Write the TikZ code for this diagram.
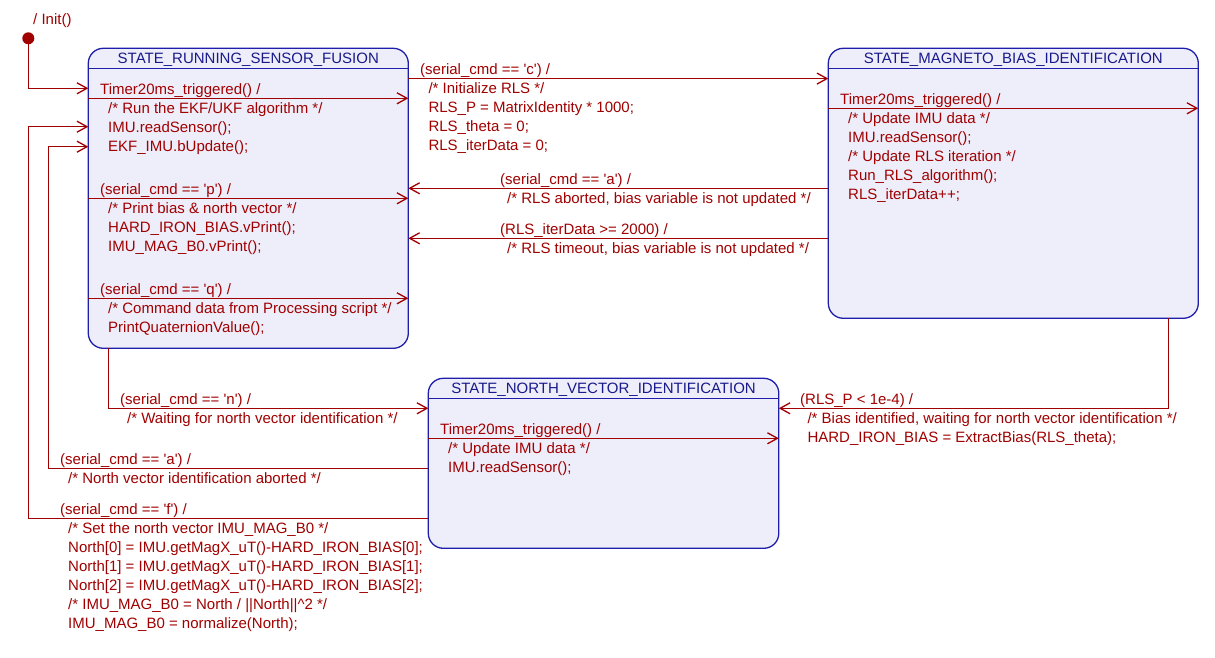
\documentclass[tikz,border=0pt]{standalone}
\usepackage{fontspec}
\setmainfont{Liberation Sans}
\usetikzlibrary{arrows.meta}
\definecolor{trred}{RGB}{160,0,0}
\definecolor{stblue}{RGB}{30,30,170}
\definecolor{sttitle}{RGB}{25,25,140}
\definecolor{stfill}{RGB}{238,238,250}
\newcommand\sqt{\textquotesingle}
% one text line per node, 19pt apart, first baseline at (#2,#3)
\newcommand\codeblock[4]{%
  \foreach \txtline [count=\k from 0] in {#4}
    {\node[codetxt] (#1-\k) at (#2, #3+19*\k) {\txtline};}}

\begin{document}
\begin{tikzpicture}[x=1pt,y=-1pt,
  font=\fontsize{15}{19}\selectfont,
  state/.style={draw=stblue, fill=stfill, line width=1.3pt, rounded corners=15pt,
    inner sep=0pt, outer sep=0pt, anchor=north west},
  sline/.style={draw=stblue, line width=1.3pt},
  tr/.style={draw=trred, line width=1.3pt, -{Straight Barb[length=10pt,width=11pt]}},
  codetxt/.style={text=trred, anchor=base west, inner sep=0pt},
  title/.style={text=sttitle, anchor=base, inner sep=0pt}]

\useasboundingbox (0,0) rectangle (1215,658);

% states
\node[state, minimum width=320pt, minimum height=300pt] (s1) at (88.3,48.3) {};
\node[state, minimum width=370pt, minimum height=270pt] (s2) at (828.3,48.3) {};
\node[state, minimum width=350.5pt, minimum height=170pt] (s3) at (428.3,378.3) {};

\node[title] (s1t) at (s1.north |- 0,63.3) {STATE\_RUNNING\_SENSOR\_FUSION};
\node[title] (s2t) at (s2.north |- 0,63.3) {STATE\_MAGNETO\_BIAS\_IDENTIFICATION};
\node[title] (s3t) at (s3.north |- 0,393.3) {STATE\_NORTH\_VECTOR\_IDENTIFICATION};
\draw[sline] (s1.west |- 0,68.3) -- (s1.east |- 0,68.3);
\draw[sline] (s2.west |- 0,68.3) -- (s2.east |- 0,68.3);
\draw[sline] (s3.west |- 0,398.3) -- (s3.east |- 0,398.3);

% initial pseudo-state
\node[circle, fill=trred, minimum size=12pt, inner sep=0pt] (init) at (28.3,38.3) {};
\node[codetxt] (initlbl) at (33,25) {/ Init()};
\draw[tr] (init) |- (s1.west |- 0,88.3);

% internal transitions of the sensor fusion state
\draw[tr] (s1.west |- 0,98.3) -- (s1.east |- 0,98.3);
\node[codetxt] (t1g) at (100,94.3) {Timer20ms\_triggered() /};
\codeblock{t1a}{108}{113.3}{/* Run the EKF/UKF algorithm */, IMU.readSensor();, EKF\_IMU.bUpdate();}

\draw[tr] (s1.west |- 0,198.3) -- (s1.east |- 0,198.3);
\node[codetxt] (pg) at (100,194.3) {(serial\_cmd == \sqt p\sqt) /};
\codeblock{pa}{108}{213.3}{/* Print bias \& north vector */, HARD\_IRON\_BIAS.vPrint();, IMU\_MAG\_B0.vPrint();}

\draw[tr] (s1.west |- 0,298.3) -- (s1.east |- 0,298.3);
\node[codetxt] (qg) at (100,294.3) {(serial\_cmd == \sqt q\sqt) /};
\codeblock{qa}{108}{313.3}{/* Command data from Processing script */, PrintQuaternionValue();}

% start RLS
\draw[tr] (s1.east |- 0,78.6) -- (s2.west |- 0,78.6);
\node[codetxt] (cg) at (420,74.6) {(serial\_cmd == \sqt c\sqt) /};
\codeblock{ca}{428.3}{93.6}{/* Initialize RLS */, RLS\_P = MatrixIdentity * 1000;, RLS\_theta = 0;, RLS\_iterData = 0;}

% back from bias identification
\draw[tr] (s2.west |- 0,188.3) -- (s1.east |- 0,188.3);
\node[codetxt] (ag) at (500,184.3) {(serial\_cmd == \sqt a\sqt) /};
\codeblock{aa}{507}{203.3}{{/* RLS aborted, bias variable is not updated */}}

\draw[tr] (s2.west |- 0,238.3) -- (s1.east |- 0,238.3);
\node[codetxt] (tog) at (500,234.3) {(RLS\_iterData >= 2000) /};
\codeblock{toa}{507}{253.3}{{/* RLS timeout, bias variable is not updated */}}

% internal transition of the bias identification state
\draw[tr] (s2.west |- 0,108.3) -- (s2.east |- 0,108.3);
\node[codetxt] (t2g) at (840,104.3) {Timer20ms\_triggered() /};
\codeblock{t2a}{848}{123.3}{/* Update IMU data */, IMU.readSensor();, /* Update RLS iteration */, Run\_RLS\_algorithm();, RLS\_iterData++;}

% bias found
\draw[tr] ([xshift=-29.8pt]s2.south east) |- (s3.east |- 0,408.3);
\node[codetxt] (bg) at (800,404.3) {(RLS\_P < 1e-4) /};
\codeblock{ba}{807.3}{423.3}{{/* Bias identified, waiting for north vector identification */}, HARD\_IRON\_BIAS = ExtractBias(RLS\_theta);}

% start north vector identification
\draw[tr] ([xshift=20pt]s1.south west) |- (s3.west |- 0,408.3);
\node[codetxt] (ng) at (120,404.3) {(serial\_cmd == \sqt n\sqt) /};
\codeblock{na}{127}{423.3}{/* Waiting for north vector identification */}

% internal transition of the north vector state
\draw[tr] (s3.west |- 0,438.3) -- (s3.east |- 0,438.3);
\node[codetxt] (t3g) at (440,434.3) {Timer20ms\_triggered() /};
\codeblock{t3a}{448}{453.3}{/* Update IMU data */, IMU.readSensor();}

% back from north vector identification
\coordinate (abend) at (48.3,146.7);
\draw[tr] (s3.west |- 0,468.3) -| (abend) -- (s1.west |- abend);
\node[codetxt] (nag) at (60,464.3) {(serial\_cmd == \sqt a\sqt) /};
\codeblock{naa}{68}{483.3}{/* North vector identification aborted */}

\coordinate (fbend) at (28.3,126.7);
\draw[tr] (s3.west |- 0,518.3) -| (fbend) -- (s1.west |- fbend);
\node[codetxt] (fg) at (60,514.3) {(serial\_cmd == \sqt f\sqt) /};
\codeblock{fa}{68}{533.3}{/* Set the north vector IMU\_MAG\_B0 */,
  North[0] = IMU.getMagX\_uT()-HARD\_IRON\_BIAS[0];,
  North[1] = IMU.getMagX\_uT()-HARD\_IRON\_BIAS[1];,
  North[2] = IMU.getMagX\_uT()-HARD\_IRON\_BIAS[2];,
  /* IMU\_MAG\_B0 = North / ||North||\textasciicircum 2 */,
  IMU\_MAG\_B0 = normalize(North);}

\end{tikzpicture}
\end{document}
